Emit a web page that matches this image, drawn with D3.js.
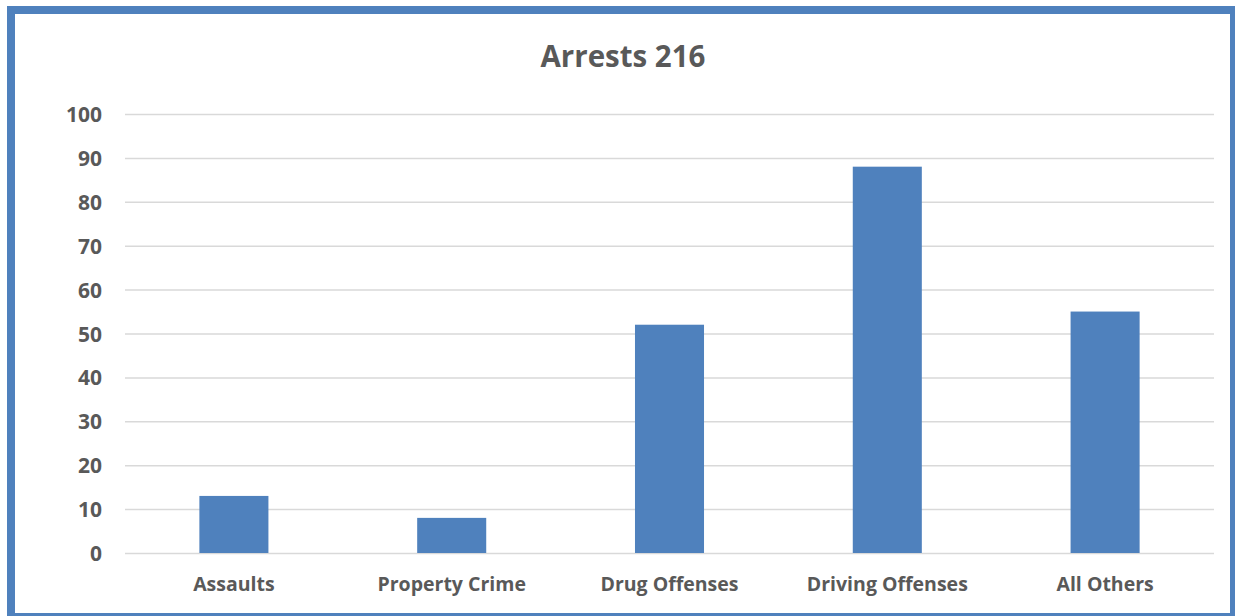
<!DOCTYPE html>
<html>
<head>
<meta charset="utf-8">
<script src="https://cdn.jsdelivr.net/npm/d3@7"></script>
<style>
  body { margin: 0; background: #fff; }
  text { font-family: "Open Sans", sans-serif; font-weight: bold; fill: #595959; }
</style>
</head>
<body>
<div id="chart"></div>
<script>
var categories = ['Assaults', 'Property Crime', 'Drug Offenses', 'Driving Offenses', 'All Others']
var arrests = [13, 8, 52, 88, 55]
var yTicks = [0, 10, 20, 30, 40, 50, 60, 70, 80, 90, 100]
var title = 'Arrests 216'

var width = 1235,
    height = 616,
    margin = { top: 114, right: 21, bottom: 63, left: 125 },
    barColor = '#4f81bd'

var svg = d3.select('#chart').append('svg')
    .attr('width', width)
    .attr('height', height)

// blue frame, right and bottom sides sit on the edge of the picture
svg.append('rect')
    .attr('x', 11)
    .attr('y', 10)
    .attr('width', 1223)
    .attr('height', 607)
    .attr('fill', 'none')
    .attr('stroke', barColor)
    .attr('stroke-width', 8)

var x = d3.scaleBand()
    .domain(categories)
    .range([margin.left, width - margin.right])

var y = d3.scaleLinear()
    .domain([0, 100])
    .range([height - margin.bottom, margin.top])

var barWidth = x.bandwidth() * 0.317

// gridlines
svg.append('g')
    .attr('class', 'grid')
    .attr('transform', 'translate(' + margin.left + ',0)')
    .call(d3.axisLeft(y)
        .tickValues(yTicks)
        .tickSize(-(width - margin.left - margin.right))
        .tickFormat(''))
    .call(function(g) {
        g.select('.domain').remove()
        g.selectAll('line').attr('stroke', '#d9d9d9').attr('stroke-width', 1.5)
    })

// y tick labels
svg.append('g')
    .attr('transform', 'translate(' + (margin.left - 23) + ',0)')
    .call(d3.axisLeft(y).tickValues(yTicks).tickSize(0).tickPadding(0))
    .call(function(g) {
        g.select('.domain').remove()
        g.selectAll('text')
            .attr('font-size', 21)
            .attr('dy', '0.36em')
            .style('font-family', '"Open Sans", sans-serif')
            .style('font-weight', 'bold')
            .attr('fill', '#595959')
    })

// bars
svg.append('g')
    .selectAll('rect')
    .data(arrests)
    .enter().append('rect')
        .attr('x', function(d, i) { return x(categories[i]) + (x.bandwidth() - barWidth) / 2 })
        .attr('y', function(d) { return y(d) })
        .attr('width', barWidth)
        .attr('height', function(d) { return y(0) - y(d) })
        .attr('fill', barColor)

// category labels
svg.append('g')
    .attr('transform', 'translate(0,' + (height - margin.bottom) + ')')
    .call(d3.axisBottom(x).tickSize(0).tickPadding(0))
    .call(function(g) {
        g.select('.domain').remove()
        g.selectAll('text')
            .attr('y', 38)
            .attr('dy', 0)
            .attr('font-size', 19.5)
            .style('font-family', '"Open Sans", sans-serif')
            .style('font-weight', 'bold')
            .attr('fill', '#595959')
    })

// title
svg.append('text')
    .attr('x', 623)
    .attr('y', 67)
    .attr('text-anchor', 'middle')
    .attr('font-size', 29.5)
    .text(title)
</script>
</body>
</html>
